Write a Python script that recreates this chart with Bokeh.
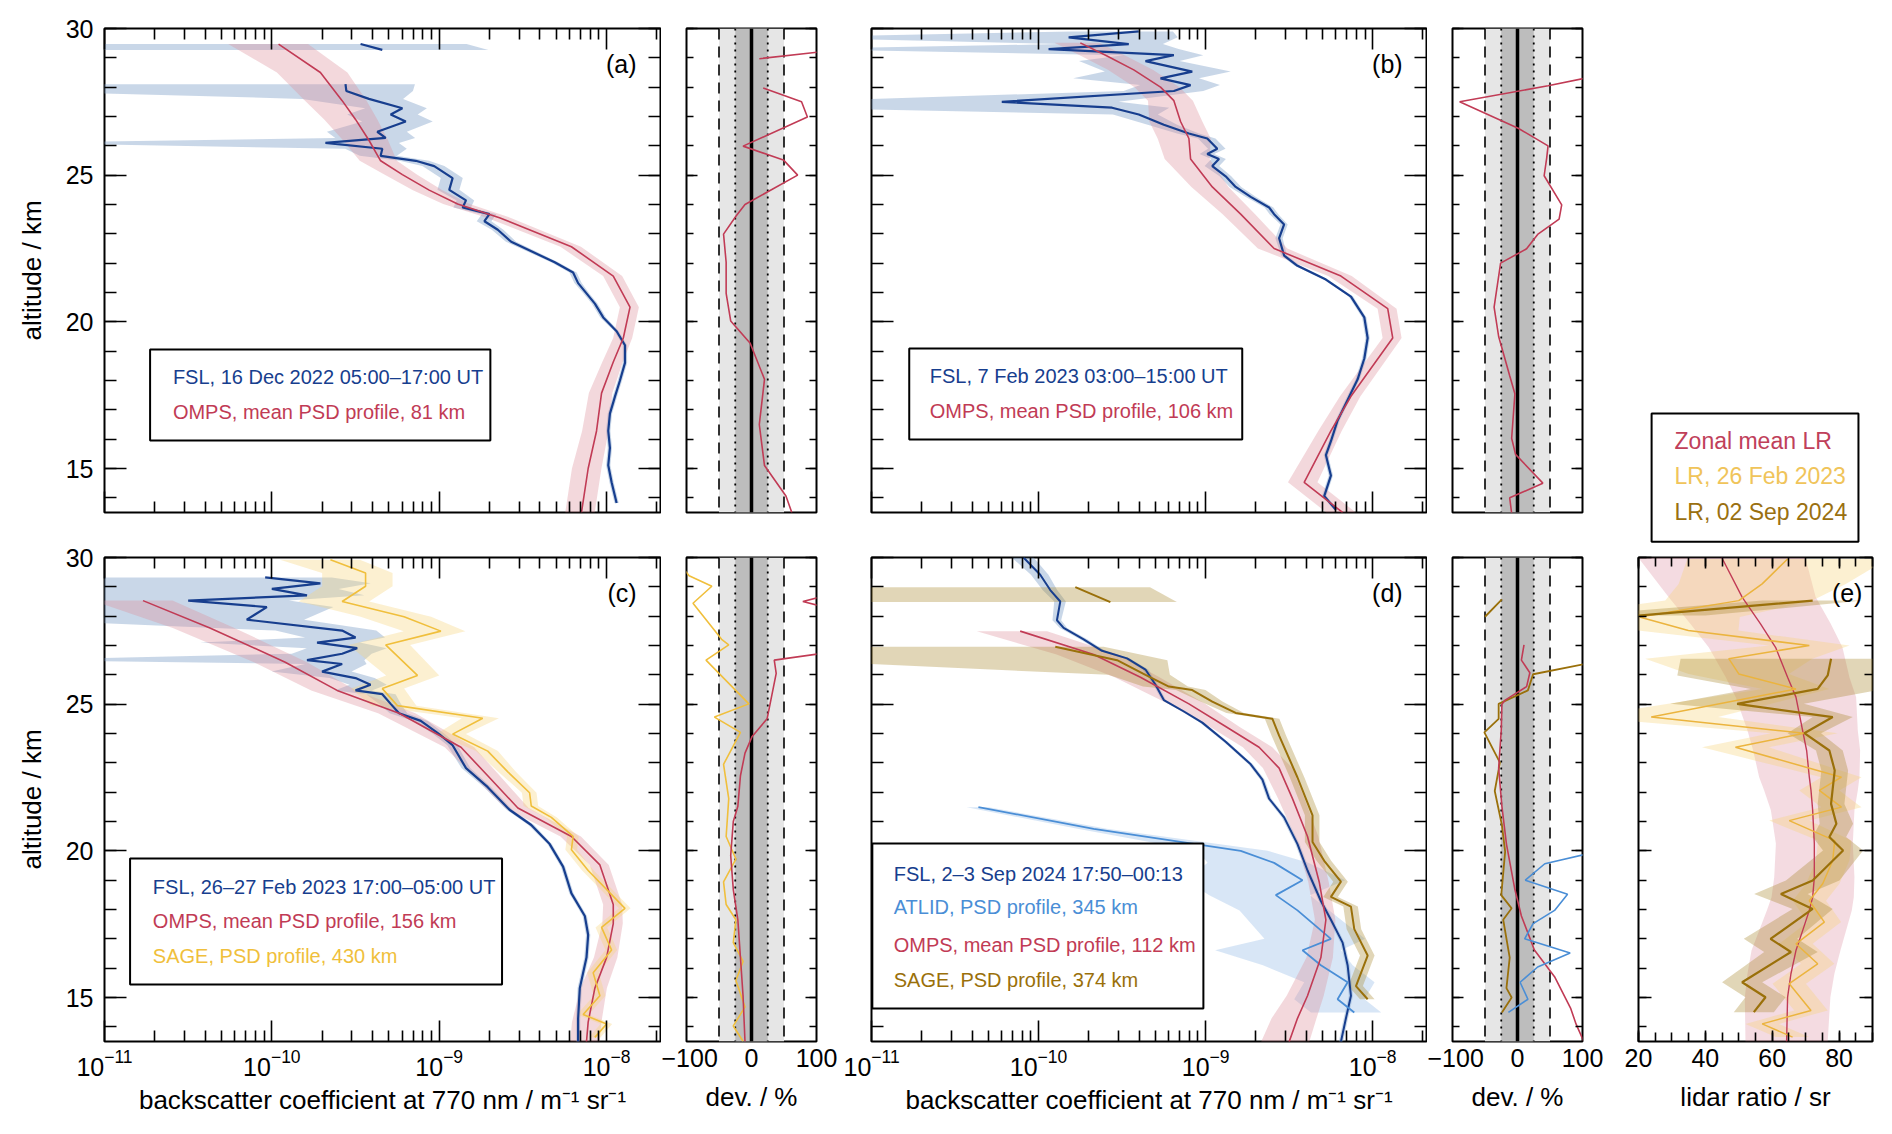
import math
from bokeh.plotting import figure
from bokeh.models import Range1d, LogAxis, LinearAxis, FixedTicker, Label, BoxAnnotation, Span
from bokeh.layouts import row, column
from bokeh.embed import file_html
from bokeh.resources import INLINE

nan = float("nan")

# ---------------- axis ranges / reference levels ----------------
ALT_RANGE = (13.5, 30.0)
BETA_RANGE = (1e-11, 2.1e-8)
LR_RANGE = (20.0, 90.0)
DEV_RANGE = (-100.0, 100.0)
dev_outer = 50
dev_inner = 25
alt_major = [15, 20, 25, 30]
alt_minor = list(range(13, 31))
beta_major = [1e-11, 1e-10, 1e-9, 1e-8]
beta_minor = [k * 10.0 ** e for e in range(-11, -7) for k in range(2, 10)]
lr_major = [20, 40, 60, 80]
lr_minor = list(range(20, 91, 5))
dev_ticks = [-100, 0, 100]

# ---------------- panel (a) ----------------
fsl_a_alt = [29.47, 29.27, 28.60, 28.10, 27.87, 27.60, 27.28, 27.07, 26.83, 26.48, 26.27, 26.10, 25.90, 25.66,
             25.49, 25.31, 24.90, 24.50, 24.14, 23.90, 23.67, 23.43, 23.14, 22.73, 22.38, 22.03, 21.68, 21.32,
             20.97, 20.62, 20.15, 19.68, 19.20, 18.60, 18.00, 17.45, 16.87, 16.28, 15.70, 15.11, 14.53, 13.82]
fsl_a_lg = [-9.47, -9.34, nan, -9.56, -9.555, -9.42, -9.22, -9.29, -9.20, -9.37, -9.32, -9.68, -9.34, -9.35,
            -9.14, -9.03, -8.92, -8.94, -8.84, -8.86, -8.70, -8.73, -8.65, -8.57, -8.44, -8.31, -8.20, -8.17,
            -8.12, -8.07, -8.02, -7.94, -7.89, -7.89, -7.92, -7.95, -7.98, -7.99, -7.98, -7.99, -7.97, -7.94]
fsl_a_err = [3.3, 3.3, nan, 1.6, 1.5, 0.6, 0.4, 0.45, 0.45, 0.5, 0.5, 1.75, 0.4, 0.25,
             0.2, 0.15, 0.15, 0.15, 0.12, 0.12, 0.1, 0.1, 0.08, 0.07, 0.06, 0.05, 0.05, 0.05,
             0.04, 0.04, 0.04, 0.03, 0.03, 0.03, 0.03, 0.03, 0.03, 0.03, 0.03, 0.03, 0.03, 0.03]
omps_a_alt = [29.47, 28.50, 27.54, 26.90, 26.19, 25.49, 25.02, 24.49, 24.02, 23.55, 22.56, 21.56, 20.50,
              19.45, 18.63, 17.57, 16.28, 15.00, 13.50]
omps_a_lg = [-9.96, -9.71, -9.58, -9.50, -9.42, -9.35, -9.22, -9.06, -8.89, -8.64, -8.21, -7.96, -7.86,
             -7.90, -7.96, -8.03, -8.06, -8.11, -8.15]
omps_a_err = [0.5, 0.45, 0.4, 0.35, 0.3, 0.25, 0.22, 0.2, 0.18, 0.16, 0.14, 0.13, 0.13,
              0.13, 0.14, 0.16, 0.18, 0.2, 0.2]
dev_a_alt = [29.20, 28.97, 28.50, 27.97, 27.50, 26.98, 25.99, 25.52, 25.00, 24.00, 23.60, 22.99, 22.03,
             20.97, 20.03, 19.27, 18.04, 16.50, 15.10, 14.06, 13.50]
dev_a_omps = [105, 12, nan, 18, 77, 86, -13, 49, 71, -10, -24, -43, -39,
              -39, -32, -2, 20, 12, 20, 53, 62]

# ---------------- panel (b) ----------------
fsl_b_alt = [29.90, 29.70, 29.47, 29.30, 29.09, 28.89, 28.53, 28.30, 28.07, 27.87, 27.50, 27.30, 27.07, 26.72,
             26.42, 26.25, 25.90, 25.72, 25.55, 25.31, 24.96, 24.60, 24.26, 23.90, 23.67, 23.32, 22.85, 22.26,
             21.91, 21.44, 20.86, 20.15, 19.45, 18.75, 18.04, 17.34, 16.64, 15.93, 15.46, 14.76, 14.06, 13.59]
fsl_b_lg = [-9.40, -9.82, -9.46, -9.94, -9.19, -9.36, -9.08, -9.27, -9.09, -9.19, -10.22, -9.56, -9.40, -9.25,
            -9.10, -8.99, -8.93, -8.99, -8.92, -8.96, -8.88, -8.82, -8.73, -8.62, -8.59, -8.53, -8.56, -8.53,
            -8.45, -8.28, -8.13, -8.05, -8.03, -8.05, -8.09, -8.15, -8.21, -8.25, -8.28, -8.25, -8.29, -8.22]
fsl_b_err = [0.6, 3.5, 0.6, 5.0, 0.5, 0.6, 0.7, 0.7, 0.5, 0.5, 4.0, 1.2, 0.3, 0.2,
             0.15, 0.12, 0.12, 0.1, 0.1, 0.1, 0.08, 0.08, 0.07, 0.06, 0.06, 0.05, 0.05, 0.04,
             0.04, 0.03, 0.03, 0.03, 0.03, 0.03, 0.03, 0.03, 0.03, 0.03, 0.03, 0.03, 0.03, 0.03]
omps_b_alt = [29.51, 29.06, 28.59, 28.00, 27.54, 26.83, 26.25, 25.55, 24.60, 23.67, 22.50, 21.56, 20.45,
              19.45, 17.46, 16.28, 14.53, 13.50]
omps_b_lg = [-9.75, -9.59, -9.43, -9.27, -9.19, -9.15, -9.10, -9.09, -8.96, -8.79, -8.59, -8.19, -7.91,
             -7.88, -8.13, -8.25, -8.41, -8.18]
omps_b_err = [0.3, 0.3, 0.3, 0.3, 0.3, 0.35, 0.35, 0.3, 0.25, 0.22, 0.2, 0.16, 0.13,
              0.13, 0.14, 0.16, 0.2, 0.2]
dev_b_alt = [28.31, 28.05, 27.50, 26.60, 26.00, 25.60, 24.98, 23.99, 23.50, 22.98, 22.49, 22.00, 20.50,
             19.50, 18.16, 17.55, 16.03, 15.48, 14.50, 14.00, 13.47]
dev_b_omps = [105, 47, -89, 1, 47, 45, 41, 68, 64, 31, 14, -26, -36,
              -29, -12, -4, -9, -3, 39, -12, -9]

# ---------------- panel (c) ----------------
fsl_c_alt = [29.32, 29.12, 28.93, 28.71, 28.53, 28.31, 27.88, 27.51, 27.27, 27.10, 26.91, 26.72, 26.50, 26.37,
             26.11, 25.89, 25.66, 25.47, 25.34, 25.01, 24.69, 24.43, 23.98, 23.60, 22.82, 22.17, 21.40, 20.88,
             20.23, 19.46, 18.55, 17.78, 17.13, 16.36, 15.32, 14.29, 13.49]
fsl_c_lg = [-10.04, -9.71, -10.00, -9.79, -10.50, -10.03, -10.15, -9.58, -9.50, -9.73, -9.49, -9.58, -9.79, -9.58,
            -9.70, -9.50, -9.41, -9.50, -9.34, -9.29, -9.24, -9.11, -9.00, -8.92, -8.84, -8.71, -8.58, -8.45,
            -8.34, -8.26, -8.21, -8.13, -8.11, -8.12, -8.16, -8.17, -8.17]
fsl_c_err = [1.5, 1.0, 1.5, 1.2, 3.0, 1.5, 1.2, 0.6, 0.5, 0.8, 0.5, 0.5, 1.2, 0.4,
             0.5, 0.3, 0.25, 0.25, 0.2, 0.15, 0.12, 0.1, 0.08, 0.07, 0.06, 0.05, 0.04, 0.04,
             0.03, 0.03, 0.03, 0.03, 0.03, 0.03, 0.03, 0.03, 0.03]
omps_c_alt = [28.53, 27.60, 26.43, 25.47, 24.69, 23.53, 22.56, 21.46, 20.49, 19.52, 18.17, 17.52, 16.36,
              15.32, 14.16, 13.49]
omps_c_lg = [-10.77, -10.37, -9.92, -9.61, -9.24, -8.87, -8.71, -8.53, -8.21, -8.04, -7.96, -7.96, -8.00,
             -8.07, -8.11, -8.12]
omps_c_err = [0.5, 0.4, 0.35, 0.3, 0.25, 0.2, 0.18, 0.16, 0.14, 0.13, 0.13, 0.14, 0.16,
              0.18, 0.2, 0.2]
sage_c_alt = [29.92, 29.47, 29.02, 28.50, 27.98, 27.49, 27.02, 25.98, 25.53, 24.95, 24.52, 23.98, 23.40, 22.69,
              21.98, 21.53, 21.14, 20.49, 20.04, 19.33, 18.04, 17.39, 16.62, 15.84, 15.06, 14.42, 14.10, 13.64]
sage_c_lg = [-9.65, -9.44, -9.44, -9.58, -9.21, -8.99, -9.32, -9.13, -9.34, -9.25, -8.74, -8.92, -8.71, -8.59,
             -8.46, -8.45, -8.33, -8.20, -8.21, -8.11, -7.89, -8.03, -7.97, -8.08, -8.04, -8.14, -8.00, -8.07]
sage_c_err = [0.5, 0.45, 0.45, 0.45, 0.45, 0.4, 0.4, 0.35, 0.35, 0.3, 0.25, 0.2, 0.15, 0.12,
              0.1, 0.1, 0.08, 0.08, 0.08, 0.08, 0.08, 0.08, 0.08, 0.08, 0.08, 0.08, 0.08, 0.08]
dev_c_sage_alt = [29.55, 29.38, 29.02, 28.44, 27.21, 27.02, 26.50, 25.01, 24.56, 24.04, 22.95, 21.78, 20.49,
                  19.72, 18.94, 18.17, 17.65, 16.87, 16.23, 15.58, 14.68, 14.03, 13.51]
dev_c_sage = [-102, -96, -61, -90, -46, -35, -70, -4, -57, -17, -43, -35, -39,
              -24, -43, -39, -24, -28, -13, -24, -10, -28, -13]
dev_c_omps_alt = [28.65, 28.50, 28.35, 27.50, 26.72, 26.50, 26.05, 24.50, 23.90, 23.33, 22.56, 21.52, 21.00,
                  19.84, 18.68, 17.65, 16.36, 15.06, 13.49]
dev_c_omps = [105, 79, 105, nan, 105, 35, 38, 24, 1, -10, -17, -21, -28,
              -32, -28, -21, -17, -13, -10]

# ---------------- panel (d) ----------------
fsl_d_alt = [30.00, 29.41, 28.89, 28.50, 27.86, 27.60, 27.21, 26.82, 26.56, 26.18, 25.66, 25.14, 24.75, 24.37,
             23.72, 22.95, 22.43, 21.78, 21.14, 20.23, 19.33, 18.29, 17.65, 16.87, 16.10, 15.06, 14.29, 13.49]
fsl_d_lg = [-10.09, -9.99, -9.93, -9.87, -9.89, -9.85, -9.73, -9.62, -9.47, -9.36, -9.30, -9.25, -9.13, -9.02,
            -8.88, -8.73, -8.66, -8.62, -8.53, -8.45, -8.39, -8.31, -8.25, -8.18, -8.15, -8.13, -8.16, -8.19]
fsl_d_err = [0.15, 0.12, 0.1, 0.08, 0.06, 0.05, 0.05, 0.04, 0.04, 0.04, 0.03, 0.03, 0.03, 0.03,
             0.03, 0.03, 0.03, 0.03, 0.03, 0.03, 0.03, 0.03, 0.03, 0.03, 0.03, 0.03, 0.03, 0.03]
atlid_d_alt = [21.49, 20.75, 20.00, 19.59, 19.00, 18.49, 17.97, 17.00, 16.61, 16.10, 15.52, 14.94, 14.49]
atlid_d_lg = [-10.36, -9.67, -8.79, -8.59, -8.42, -8.58, -8.45, -8.25, -8.42, -8.31, -8.15, -8.21, -8.11]
atlid_d_err = [0.15, 0.2, 0.45, 0.6, 0.8, 0.6, 0.55, 0.6, 0.7, 0.55, 0.45, 0.45, 0.45]
omps_d_alt = [27.49, 26.69, 25.92, 25.01, 24.24, 23.53, 22.82, 21.78, 20.49, 18.94, 17.65, 16.36, 15.06,
              14.29, 13.49]
omps_d_lg = [-10.11, -9.67, -9.39, -9.10, -8.88, -8.68, -8.56, -8.48, -8.39, -8.32, -8.28, -8.31, -8.39,
             -8.45, -8.50]
omps_d_err = [0.45, 0.4, 0.3, 0.25, 0.2, 0.2, 0.2, 0.18, 0.16, 0.14, 0.14, 0.18, 0.25, 0.3, 0.32]
sage_d_alt = [28.99, 28.48, 27.50, 26.96, 26.50, 26.00, 25.60, 25.48, 25.09, 24.70, 24.50, 23.93, 22.50, 21.21,
              20.30, 19.66, 18.95, 18.43, 18.10, 17.33, 16.43, 15.39, 14.94]
sage_d_lg = [-9.78, -9.57, nan, -9.90, -9.53, -9.36, -9.22, -9.08, -8.96, -8.82, -8.60, -8.56, -8.45, -8.36,
             -8.36, -8.29, -8.19, -8.25, -8.13, -8.11, -8.03, -8.10, -8.03]
sage_d_err = [1.8, 1.5, nan, 0.95, 1.0, 0.4, 0.3, 0.2, 0.15, 0.12, 0.1, 0.1, 0.1, 0.1,
              0.1, 0.1, 0.1, 0.1, 0.1, 0.1, 0.1, 0.1, 0.1]
dev_d_sage_alt = [28.57, 27.98, 27.00, 26.40, 26.02, 25.47, 25.01, 24.50, 24.04, 23.01, 22.04, 20.88, 19.97,
                  18.49, 18.04, 17.65, 16.36, 15.32, 15.00, 14.49]
dev_d_sage = [-24, -50, nan, 110, 24, 16, -29, -29, -51, -27, -35, -24, -19,
              -25, -9, -22, -12, -17, -9, -24]
dev_d_omps_alt = [27.02, 26.50, 26.07, 25.60, 25.14, 25.00, 24.10, 22.82, 21.52, 20.23, 18.68, 17.78, 16.62,
                  15.71, 14.62, 14.10, 13.50]
dev_d_omps = [10, 6, 19, 14, -19, -24, -25, -29, -24, -17, -4, 6, 26, 57, 82, 90, 102]
dev_d_atlid_alt = [19.87, 19.56, 19.00, 18.52, 17.97, 17.52, 17.00, 16.52, 16.04, 15.52, 14.94, 14.49]
dev_d_atlid = [102, 42, 12, 77, 57, 24, 11, 81, 31, 4, 16, -14]

# ---------------- panel (e) : lidar ratio ----------------
lr_zonal_alt = [30.00, 28.65, 27.74, 26.94, 25.92, 25.24, 24.10, 23.42, 22.51, 22.06, 21.38, 20.24, 19.10,
                18.42, 17.97, 17.28, 16.60, 15.81, 15.01, 13.50]
lr_zonal = [44.9, 51.0, 56.5, 61.0, 64.6, 67.1, 69.1, 70.3, 71.1, 71.6, 72.1, 72.6, 72.6,
            72.1, 71.1, 69.1, 67.1, 65.6, 64.6, 64.3]
lr_zonal_err = [25, 22, 21, 20, 18.5, 18, 16.5, 16, 15, 14, 12.5, 11.5, 12,
                12.3, 12.7, 13, 13.3, 13, 12.8, 12.3]
lr_feb_alt = [29.95, 29.10, 28.53, 27.97, 27.51, 27.00, 26.55, 26.03, 25.52, 24.56, 24.01, 23.53, 22.51, 22.06,
              21.49, 21.03, 20.35, 19.67, 18.88, 18.30, 17.57, 16.83, 16.15, 15.47, 14.56, 14.10, 13.65]
lr_feb = [64.6, 57.0, 50.0, 20.3, 34.9, 71.1, 47.0, 50.0, 67.1, 23.8, 69.6, 49.0, 80.7, 74.1,
          80.7, 65.1, 78.7, 78.1, 75.1, 71.1, 75.6, 67.1, 73.6, 65.1, 71.6, 57.0, 66.1]
lr_feb_err = [30, 25, 22, 30, 15, 12, 25, 15, 10, 20, 10, 10, 6, 6,
              6, 6, 5, 5, 5, 5, 5, 5, 5, 5, 5, 5, 5]
lr_sep_alt = [28.53, 28.02, 27.00, 26.55, 25.98, 25.52, 25.01, 24.56, 24.01, 23.42, 22.74, 21.60, 20.92, 20.47,
              20.01, 18.99, 18.53, 18.02, 17.00, 16.55, 15.52, 15.01, 14.50]
lr_sep = [72.1, 20.0, nan, 77.6, 76.6, 73.6, 49.5, 78.1, 69.6, 77.1, 78.7, 77.6, 79.2, 77.1,
          81.2, 72.1, 62.6, 72.1, 59.5, 65.6, 51.0, 58.0, 54.5]
lr_sep_err = [15, 20, nan, 45, 45, 20, 20, 6, 5, 4, 4, 4, 5, 5,
              6, 8, 8, 6, 8, 8, 6, 6, 6]

# ---------------- style ----------------
FONT = "Liberation Sans"
TICK_FS = "25px"
AXIS_FS = "26px"
LEG_FS = "20px"
C_FSL, C_FSL_B = "#173e8e", "#87a6cc"
C_OMPS, C_OMPS_B = "#c13b55", "#dc8e9c"
C_SAGE1, C_SAGE1_B = "#f0bf3c", "#f5d37a"
C_ATLID, C_ATLID_B = "#4a8ed6", "#9dc0e8"
C_SAGE2, C_SAGE2_B = "#9a700a", "#a88a30"

LOG0, LOG1 = math.log10(BETA_RANGE[0]), math.log10(BETA_RANGE[1])


def bx(f):
    return 10 ** (LOG0 + f * (LOG1 - LOG0))


def ay(f):
    return ALT_RANGE[1] - f * (ALT_RANGE[1] - ALT_RANGE[0])


def lx(f):
    return LR_RANGE[0] + f * (LR_RANGE[1] - LR_RANGE[0])


def style_axis(ax, major, minor, labels, width=1.6):
    ax.axis_line_color = None
    ax.major_tick_in = major
    ax.major_tick_out = 0
    ax.minor_tick_in = minor
    ax.minor_tick_out = 0
    ax.major_tick_line_color = "black"
    ax.minor_tick_line_color = "black"
    ax.major_tick_line_width = width
    ax.minor_tick_line_width = width
    ax.major_label_text_font = FONT
    ax.major_label_text_color = "black"
    if labels:
        ax.major_label_text_font_size = TICK_FS
        ax.major_label_standoff = 7
    else:
        ax.major_label_text_font_size = "1px"
        ax.major_label_text_alpha = 0
        ax.major_label_standoff = 0
    ax.axis_label_text_font = FONT
    ax.axis_label_text_font_size = AXIS_FS
    ax.axis_label_text_font_style = "normal"
    ax.axis_label_text_color = "black"


def base_fig(x_type, x_range, fw, fh, bl, br, bt, bb):
    p = figure(x_axis_type=x_type, x_range=x_range, y_range=Range1d(*ALT_RANGE),
               frame_width=fw, frame_height=fh, min_border_left=bl, min_border_right=br,
               min_border_top=bt, min_border_bottom=bb, toolbar_location=None,
               output_backend="svg", background_fill_color="white", border_fill_color="white")
    p.outline_line_color = "black"
    p.outline_line_width = 2
    p.outline_line_alpha = 1
    p.grid.visible = False
    return p


def beta_fig(fw, fh, bl, br, bt, bb, xlabels, ylabels):
    p = base_fig("log", Range1d(*BETA_RANGE), fw, fh, bl, br, bt, bb)
    p.xaxis[0].ticker = FixedTicker(ticks=beta_major, minor_ticks=beta_minor)
    p.yaxis[0].ticker = FixedTicker(ticks=alt_major, minor_ticks=alt_minor)
    style_axis(p.xaxis[0], 21, 11, xlabels)
    style_axis(p.yaxis[0], 22, 12, ylabels)
    if xlabels:
        p.xaxis[0].axis_label = "backscatter coefficient at 770 nm / m\u207b\u00b9 sr\u207b\u00b9"
        p.xaxis[0].axis_label_standoff = 6
    if ylabels:
        p.yaxis[0].axis_label = "altitude / km"
        p.yaxis[0].axis_label_standoff = 16
        p.yaxis[0].major_label_standoff = 11
    top = LogAxis(ticker=FixedTicker(ticks=beta_major, minor_ticks=beta_minor))
    style_axis(top, 21, 11, False)
    p.add_layout(top, "above")
    right = LinearAxis(ticker=FixedTicker(ticks=alt_major, minor_ticks=alt_minor))
    style_axis(right, 22, 12, False)
    p.add_layout(right, "right")
    return p


def dev_fig(fw, fh, bl, br, bt, bb, xlabels):
    p = base_fig("linear", Range1d(*DEV_RANGE), fw, fh, bl, br, bt, bb)
    p.xaxis[0].ticker = FixedTicker(ticks=dev_ticks, minor_ticks=[])
    p.yaxis[0].ticker = FixedTicker(ticks=alt_major, minor_ticks=alt_minor)
    style_axis(p.xaxis[0], 0, 0, xlabels)
    style_axis(p.yaxis[0], 11, 7, False)
    if xlabels:
        p.xaxis[0].axis_label = "dev. / %"
        p.xaxis[0].axis_label_standoff = 12
    right = LinearAxis(ticker=FixedTicker(ticks=alt_major, minor_ticks=alt_minor))
    style_axis(right, 11, 7, False)
    p.add_layout(right, "right")
    p.add_layout(BoxAnnotation(left=-dev_outer, right=dev_outer, fill_color="#e6e6e6", fill_alpha=1,
                               line_color=None, level="underlay"))
    p.add_layout(BoxAnnotation(left=-dev_inner, right=dev_inner, fill_color="#bdbdbd", fill_alpha=1,
                               line_color=None, level="underlay"))
    for loc in (-dev_outer, dev_outer):
        p.add_layout(Span(location=loc, dimension="height", line_color="black", line_width=1.6,
                          line_dash="11 7", level="underlay"))
    for loc in (-dev_inner, dev_inner):
        p.add_layout(Span(location=loc, dimension="height", line_color="black", line_width=1.8,
                          line_dash="2 5", level="underlay"))
    p.add_layout(Span(location=0, dimension="height", line_color="black", line_width=3.5, level="underlay"))
    return p


def segments(alt, val, err):
    segs, cur = [], []
    for a, v, e in zip(alt, val, err):
        if v != v:
            if cur:
                segs.append(cur)
            cur = []
        else:
            cur.append((a, v, e))
    if cur:
        segs.append(cur)
    return segs


def beta_band(p, alt, lg, err, color, alpha):
    for seg in segments(alt, lg, err):
        a = [s[0] for s in seg]
        v = [10 ** s[1] for s in seg]
        hi = [x * (1 + s[2]) for x, s in zip(v, seg)]
        lo = [max(x * (1 - s[2]), BETA_RANGE[0] * 0.3) for x, s in zip(v, seg)]
        p.patch(hi + lo[::-1], a + a[::-1], fill_color=color, fill_alpha=alpha, line_color=None)


def beta_line(p, alt, lg, color, lw):
    v = [10 ** x if x == x else nan for x in lg]
    p.line(v, alt, line_color=color, line_width=lw)


def lin_band(p, alt, val, err, color, alpha):
    for seg in segments(alt, val, err):
        a = [s[0] for s in seg]
        hi = [s[1] + s[2] for s in seg]
        lo = [s[1] - s[2] for s in seg]
        p.patch(hi + lo[::-1], a + a[::-1], fill_color=color, fill_alpha=alpha, line_color=None)


def legend_box(p, box, tx, entries, xf=bx):
    l, r, t, b = box
    p.add_layout(BoxAnnotation(left=xf(l), right=xf(r), top=ay(t), bottom=ay(b), fill_color="white",
                               fill_alpha=1, line_color="black", line_width=2, line_alpha=1))
    for txt, col, fy in entries:
        p.add_layout(Label(x=xf(tx), y=ay(fy), text=txt, text_color=col, text_font=FONT,
                           text_font_size=LEG_FS, text_baseline="middle"))


def panel_label(p, txt, xf):
    p.add_layout(Label(x=xf(0.957), y=ay(0.074), text=txt, text_font=FONT, text_font_size="25px",
                       text_align="right", text_baseline="middle", text_color="black"))


FH = 484
# ---------------- row 1 ----------------
pa = beta_fig(556, FH, 104, 1, 28, 24, False, True)
beta_band(pa, fsl_a_alt, fsl_a_lg, fsl_a_err, C_FSL_B, 0.45)
beta_band(pa, omps_a_alt, omps_a_lg, omps_a_err, C_OMPS_B, 0.35)
beta_line(pa, fsl_a_alt, fsl_a_lg, C_FSL, 2.2)
beta_line(pa, omps_a_alt, omps_a_lg, C_OMPS, 1.6)
legend_box(pa, (0.082, 0.694, 0.663, 0.851), 0.123,
           [("FSL, 16 Dec 2022 05:00\u201317:00 UT", C_FSL, 0.721),
            ("OMPS, mean PSD profile, 81 km", C_OMPS, 0.793)])
panel_label(pa, "(a)", bx)

pda = dev_fig(130, FH, 25, 27, 28, 24, False)
pda.line(dev_a_omps, dev_a_alt, line_color=C_OMPS, line_width=1.6)

pb = beta_fig(555, FH, 28, 1, 28, 24, False, False)
beta_band(pb, fsl_b_alt, fsl_b_lg, fsl_b_err, C_FSL_B, 0.45)
beta_band(pb, omps_b_alt, omps_b_lg, omps_b_err, C_OMPS_B, 0.35)
beta_line(pb, fsl_b_alt, fsl_b_lg, C_FSL, 2.2)
beta_line(pb, omps_b_alt, omps_b_lg, C_OMPS, 1.6)
legend_box(pb, (0.068, 0.668, 0.661, 0.849), 0.105,
           [("FSL, 7 Feb 2023 03:00\u201315:00 UT", C_FSL, 0.719),
            ("OMPS, mean PSD profile, 106 km", C_OMPS, 0.790)])
panel_label(pb, "(b)", bx)

pdb = dev_fig(130, FH, 25, 28, 28, 24, False)
pdb.line(dev_b_omps, dev_b_alt, line_color=C_OMPS, line_width=1.6)

# ---------------- row 2 ----------------
pc = beta_fig(556, FH, 104, 1, 21, 88, True, True)
beta_band(pc, fsl_c_alt, fsl_c_lg, fsl_c_err, C_FSL_B, 0.45)
beta_band(pc, omps_c_alt, omps_c_lg, omps_c_err, C_OMPS_B, 0.35)
beta_band(pc, sage_c_alt, sage_c_lg, sage_c_err, C_SAGE1_B, 0.35)
beta_line(pc, fsl_c_alt, fsl_c_lg, C_FSL, 2.2)
beta_line(pc, omps_c_alt, omps_c_lg, C_OMPS, 1.6)
beta_line(pc, sage_c_alt, sage_c_lg, C_SAGE1, 1.6)
legend_box(pc, (0.046, 0.715, 0.622, 0.882), 0.087,
           [("FSL, 26\u201327 Feb 2023 17:00\u201305:00 UT", C_FSL, 0.680),
            ("OMPS, mean PSD profile, 156 km", C_OMPS, 0.750),
            ("SAGE, PSD profile, 430 km", C_SAGE1, 0.824)])
panel_label(pc, "(c)", bx)

pdc = dev_fig(130, FH, 25, 27, 21, 88, True)
pdc.line(dev_c_sage, dev_c_sage_alt, line_color=C_SAGE1, line_width=1.6)
pdc.line(dev_c_omps, dev_c_omps_alt, line_color=C_OMPS, line_width=1.6)

pd = beta_fig(555, FH, 28, 1, 21, 88, True, False)
beta_band(pd, fsl_d_alt, fsl_d_lg, fsl_d_err, C_FSL_B, 0.45)
beta_band(pd, atlid_d_alt, atlid_d_lg, atlid_d_err, C_ATLID_B, 0.4)
beta_band(pd, omps_d_alt, omps_d_lg, omps_d_err, C_OMPS_B, 0.35)
beta_band(pd, sage_d_alt, sage_d_lg, sage_d_err, C_SAGE2_B, 0.35)
beta_line(pd, fsl_d_alt, fsl_d_lg, C_FSL, 2.0)
beta_line(pd, atlid_d_alt, atlid_d_lg, C_ATLID, 1.8)
beta_line(pd, omps_d_alt, omps_d_lg, C_OMPS, 1.6)
beta_line(pd, sage_d_alt, sage_d_lg, C_SAGE2, 2.0)
legend_box(pd, (0.0015, 0.598, 0.591, 0.932), 0.04,
           [("FSL, 2\u20133 Sep 2024 17:50\u201300:13", C_FSL, 0.653),
            ("ATLID, PSD profile, 345 km", C_ATLID, 0.723),
            ("OMPS, mean PSD profile, 112 km", C_OMPS, 0.800),
            ("SAGE, PSD profile, 374 km", C_SAGE2, 0.872)])
panel_label(pd, "(d)", bx)

pdd = dev_fig(130, FH, 25, 28, 21, 88, True)
pdd.line(dev_d_sage, dev_d_sage_alt, line_color=C_SAGE2, line_width=1.8)
pdd.line(dev_d_omps, dev_d_omps_alt, line_color=C_OMPS, line_width=1.6)
pdd.line(dev_d_atlid, dev_d_atlid_alt, line_color=C_ATLID, line_width=1.6)

# ---------------- column 5 ----------------
pe = base_fig("linear", Range1d(*LR_RANGE), 234, FH, 28, 6, 12, 88)
pe.xaxis[0].ticker = FixedTicker(ticks=lr_major, minor_ticks=lr_minor)
pe.yaxis[0].ticker = FixedTicker(ticks=alt_major, minor_ticks=alt_minor)
style_axis(pe.xaxis[0], 11, 9, True)
style_axis(pe.yaxis[0], 13, 8, False)
pe.xaxis[0].axis_label = "lidar ratio / sr"
pe.xaxis[0].axis_label_standoff = 12
top_e = LinearAxis(ticker=FixedTicker(ticks=lr_major, minor_ticks=lr_minor))
style_axis(top_e, 11, 9, False)
pe.add_layout(top_e, "above")
right_e = LinearAxis(ticker=FixedTicker(ticks=alt_major, minor_ticks=alt_minor))
style_axis(right_e, 13, 8, False)
pe.add_layout(right_e, "right")
lin_band(pe, lr_zonal_alt, lr_zonal, lr_zonal_err, "#d9889a", 0.3)
lin_band(pe, lr_feb_alt, lr_feb, lr_feb_err, C_SAGE1_B, 0.35)
lin_band(pe, lr_sep_alt, lr_sep, lr_sep_err, C_SAGE2_B, 0.35)
pe.line(lr_zonal, lr_zonal_alt, line_color=C_OMPS, line_width=1.4)
pe.line(lr_feb, lr_feb_alt, line_color="#ebb43e", line_width=1.5)
pe.line(lr_sep, lr_sep_alt, line_color=C_SAGE2, line_width=2.2)
panel_label(pe, "(e)", lx)

# legend figure above (e); its frame is aligned with the frame of (e)
pleg = figure(width=268, height=545, x_range=Range1d(0, 1), y_range=Range1d(0, 1),
              x_axis_type=None, y_axis_type=None, toolbar_location=None, output_backend="svg",
              min_border=0, outline_line_color=None, background_fill_color="white",
              border_fill_color="white")
pleg.add_layout(BoxAnnotation(left=0.056, right=0.940, top=0.242, bottom=0.007, fill_color="white",
                              fill_alpha=1, line_color="black", line_width=2, line_alpha=1))
for txt, col, yy in [("Zonal mean LR", "#c0405a", 0.191),
                     ("LR, 26 Feb 2023", "#f0c45a", 0.128),
                     ("LR, 02 Sep 2024", "#9a7010", 0.062)]:
    pleg.add_layout(Label(x=0.154, y=yy, text=txt, text_color=col, text_font=FONT,
                          text_font_size="23px", text_baseline="middle"))

left = column(row(pa, pda, pb, pdb), row(pc, pdc, pd, pdd))
right = column(pleg, pe)
layout = row(left, right)

open("out.html", "w").write(file_html(layout, INLINE))
